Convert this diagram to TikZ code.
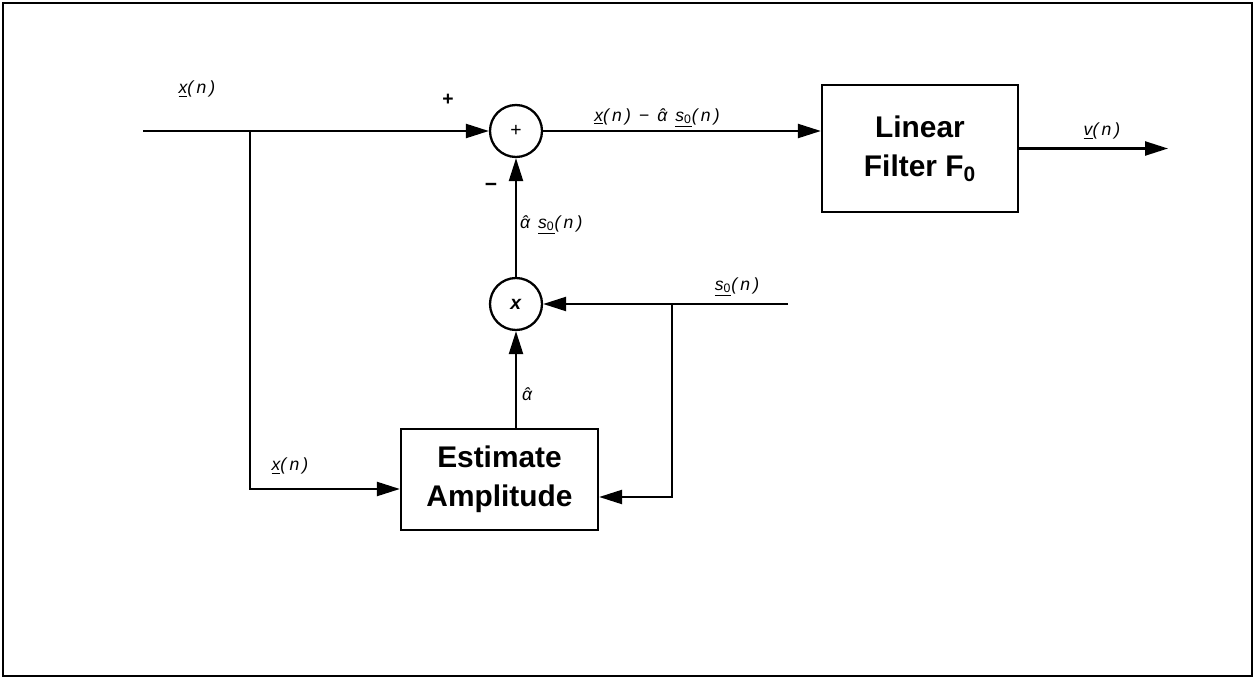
\documentclass[tikz,border=0pt]{standalone}
\usepackage{fontspec}
\setmainfont{Liberation Sans}
\usetikzlibrary{arrows.meta}
\newcommand{\lblfont}{\fontsize{10}{11}\selectfont\itshape\addfontfeatures{LetterSpace=18}}
\newcommand{\ahat}{\accent"02C6 α}
\newcommand{\uln}[1]{\underline{#1}}
\newcommand{\szero}{\uln{s\textsubscript{\upshape 0}}}
\begin{document}
\begin{tikzpicture}[x=0.02cm,y=-0.02cm,line width=1.3pt,
  >={Triangle[length=0.46cm,width=0.28cm]},
  junction/.style={circle,draw,minimum size=1.04cm,inner sep=0pt,font=\fontsize{11}{12}\selectfont},
  block/.style={draw,align=center,inner sep=0pt,font=\fontsize{17}{22.5}\selectfont\bfseries},
  lab/.style={font=\lblfont,inner sep=0pt}]
\useasboundingbox (0,0) rectangle (1255,679);
\draw[line width=1.6pt] (3,3) rectangle (1252,676);

% nodes
\node[junction] (sum) at (516,131) {+};
\node[junction] (mult) at (516,304) {\textit{\textbf{x}}};
\node[block,minimum width=3.92cm,minimum height=2.54cm] (filter) at (920,148.5) {Linear\\Filter F\textsubscript{0}};
\node[block,minimum width=3.94cm,minimum height=2.02cm] (est) at (499.5,479.5) {Estimate\\Amplitude};

\coordinate (xin) at (143,131);
\coordinate (bx) at (250,131);
\coordinate (sin) at (788,304);
\coordinate (bs) at (672,304);
\coordinate (vout) at (1168,148.5);

% connectors
\draw[->] (xin) -- (sum.west);
\draw[->] (bx) |- ([yshift=-0.19cm]est.west);
\draw[->] (sum.east) -- (sum.east -| filter.west);
\draw[->] (filter.east) -- (vout);
\draw[->] (mult.north) -- (sum.south);
\draw[->] (sin) -- (mult.east);
\draw[->] (bs) |- ([yshift=-0.35cm]est.east);
\draw[->] (mult.south |- est.north) -- (mult.south);

% labels
\node[lab] (l1) at (197,89) {\uln{x}(n)};
\node[lab,font=\fontsize{11}{12}\selectfont\bfseries] (l2) at (448,100) {+};
\node[lab] (l3) at (657,118) {\uln{x}(n) − \ahat\ \szero(n)};
\node[lab] (l4) at (1102,131) {\uln{v}(n)};
\node[lab,font=\fontsize{12}{12}\selectfont\bfseries] (l5) at (491,187) {−};
\node[lab,anchor=west] (l6) at (519,225) {\ahat\ \szero(n)};
\node[lab] (l7) at (737,287) {\szero(n)};
\node[lab] (l8) at (527,394) {\ahat};
\node[lab] (l9) at (290,466) {\uln{x}(n)};
\end{tikzpicture}
\end{document}
